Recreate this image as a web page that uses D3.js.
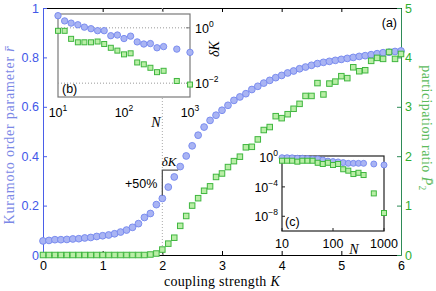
<!DOCTYPE html>
<html>
<head>
<meta charset="utf-8">
<script src="https://cdn.jsdelivr.net/npm/d3@7"></script>
<style>
  body { margin: 0; background: #fff; }
  svg { display: block; }
  text { font-family: "Liberation Sans", Arial, sans-serif; }
  .serif { font-family: "Liberation Serif", "Times New Roman", serif; }
</style>
</head>
<body>
<div id="chart"></div>
<script>
// main panel (a): coupling strength K vs order parameter and participation ratio
const K = [0, 0.1, 0.2, 0.3, 0.4, 0.5, 0.6, 0.7, 0.8, 0.9,
  1.0, 1.1, 1.2, 1.3, 1.4, 1.5, 1.6, 1.7, 1.8, 1.9,
  2.0, 2.1, 2.2, 2.3, 2.4, 2.5, 2.6, 2.7, 2.8, 2.9,
  3.0, 3.1, 3.2, 3.3, 3.4, 3.5, 3.6, 3.7, 3.8, 3.9,
  4.0, 4.1, 4.2, 4.3, 4.4, 4.5, 4.6, 4.7, 4.8, 4.9,
  5.0, 5.1, 5.2, 5.3, 5.4, 5.5, 5.6, 5.7, 5.8, 5.9, 6.0];
const rBar = [0.057, 0.059, 0.062, 0.062, 0.063, 0.065, 0.066, 0.069, 0.071, 0.075,
  0.078, 0.081, 0.086, 0.093, 0.101, 0.112, 0.127, 0.152, 0.168, 0.204,
  0.229, 0.275, 0.316, 0.358, 0.401, 0.442, 0.485, 0.518, 0.545, 0.566,
  0.586, 0.606, 0.626, 0.640, 0.653, 0.670, 0.683, 0.696, 0.707, 0.718,
  0.727, 0.737, 0.745, 0.754, 0.761, 0.768, 0.775, 0.780, 0.784, 0.788,
  0.792, 0.796, 0.800, 0.804, 0.807, 0.811, 0.815, 0.819, 0.821, 0.824, 0.826];
const P2 = [0, 0, 0, 0, 0, 0, 0, 0, 0, 0,
  0, 0, 0, 0, 0, 0, 0, 0, 0.01, 0.03,
  0.11, 0.23, 0.35, 0.59, 0.79, 1.00, 1.15, 1.30, 1.39, 1.58,
  1.65, 1.78, 1.90, 1.99, 2.18, 2.19, 2.34, 2.53, 2.59, 2.81,
  2.77, 2.85, 2.96, 3.06, 3.22, 3.22, 3.48, 3.25, 3.47, 3.51,
  3.62, 3.58, 3.80, 3.72, 3.74, 3.93, 3.99, 3.97, 4.11, 3.97, 4.07];
const xTicks = [0, 1, 2, 3, 4, 5, 6];
const rTicks = [0, 0.2, 0.4, 0.6, 0.8, 1];
const pTicks = [0, 1, 2, 3, 4, 5];

// insets (b) and (c): system size N
const N = [10, 12.6, 15.8, 20, 25.1, 31.6, 39.8, 50.1, 63.1, 79.4,
  100, 125.9, 158.5, 199.5, 251.2, 316.2, 398.1, 631, 1000];
const dKbRbar = [2.75, 1.78, 1.48, 1.29, 1.06, 0.93, 0.79, 0.79, 0.52, 0.55,
  0.41, 0.50, 0.31, 0.26, 0.27, 0.19, 0.21, 0.17, 0.13];
const dKbP2 = [0.78, 0.78, 0.40, 0.30, 0.30, 0.30, 0.32, 0.26, 0.19, 0.15,
  0.11, 0.12, 0.056, 0.048, 0.036, 0.025, 0.028, 0.012, 0.0089];
const cRbar = [0.93, 0.93, 0.89, 0.79, 0.79, 0.71, 0.63, 0.63, 0.45, 0.32,
  0.28, 0.25, 0.20, 0.16, 0.16, 0.16, 0.16, 0.13, 0.095];
const cP2 = [0.36, 0.36, 0.36, 0.27, 0.36, 0.36, 0.36, 0.19, 0.13, 0.19,
  0.095, 0.13, 0.025, 0.016, 0.0056, 0.0083, 0.0041, 1.3e-5, 2.8e-8];
const bXTicks = [10, 100, 1000], bXLabels = ["1", "2", "3"];
const bYTicks = [1, 0.01], bYLabels = ["0", "\u22122"];
const cXTicks = [10, 100, 1000], cXLabels = ["10", "100", "1000"];
const cYTicks = [1, 1e-4, 1e-8], cYLabels = ["0", "\u22124", "\u22128"];

const blueFill = "#a9b4f3", blueStroke = "#7487ee";
const greenFill = "#b9eea6", greenStroke = "#3fb63f";

const svg = d3.select("#chart").append("svg")
  .attr("width", 436).attr("height", 291);

const x = d3.scaleLinear().domain([0, 6]).range([43, 401]);
const yL = d3.scaleLinear().domain([0, 1]).range([255, 8]);
const yR = d3.scaleLinear().domain([0, 5]).range([255, 8]);

function styleAxis(g, lineColor, textColor) {
  g.select(".domain").attr("stroke", lineColor);
  g.selectAll(".tick line").attr("stroke", lineColor);
  g.selectAll(".tick text").attr("fill", textColor)
    .attr("font-size", 12.5)
    .attr("font-family", "Liberation Sans, Arial, sans-serif");
}

// axes
svg.append("g").attr("transform", "translate(0,255)")
  .call(d3.axisBottom(x).tickValues(xTicks).tickSize(-4).tickSizeOuter(0).tickPadding(6)
    .tickFormat(d3.format("d")))
  .call(g => styleAxis(g, "#000", "#000"));
svg.append("g").attr("transform", "translate(0,8)")
  .call(d3.axisTop(x).tickValues(xTicks).tickSize(-4).tickSizeOuter(0).tickFormat(""))
  .call(g => styleAxis(g, "#000", "#000"));
svg.append("g").attr("transform", "translate(43,0)")
  .call(d3.axisLeft(yL).tickValues(rTicks).tickSize(-4).tickSizeOuter(0).tickPadding(4)
    .tickFormat(d3.format("~g")))
  .call(g => styleAxis(g, "#4a5ee8", "#4257e8"));
svg.append("g").attr("transform", "translate(401,0)")
  .call(d3.axisRight(yR).tickValues(pTicks).tickSize(-4).tickSizeOuter(0).tickPadding(4)
    .tickFormat(d3.format("d")))
  .call(g => styleAxis(g, "#2e8b57", "#2fae2f"));

// dotted line at K = 2
svg.append("line")
  .attr("x1", x(2)).attr("x2", x(2)).attr("y1", yL(1)).attr("y2", yL(0))
  .attr("stroke", "#aaa").attr("stroke-dasharray", "1,2");

function drawCircles(g, xs, ys, r) {
  g.append("g").selectAll("circle").data(xs).join("circle")
    .attr("cx", d => d[0]).attr("cy", (d, i) => ys[i])
    .attr("r", r).attr("fill", blueFill).attr("stroke", blueStroke).attr("stroke-width", 0.9);
}
function drawSquares(g, xs, ys, s) {
  g.append("g").selectAll("rect").data(xs).join("rect")
    .attr("x", d => d[0] - s / 2).attr("y", (d, i) => ys[i] - s / 2)
    .attr("width", s).attr("height", s)
    .attr("fill", greenFill).attr("stroke", greenStroke).attr("stroke-width", 1);
}

drawCircles(svg, K.map(k => [x(k)]), rBar.map(v => yL(v)), 3.4);
drawSquares(svg, K.map(k => [x(k)]), P2.map(v => yR(v)), 5.5);

// delta K bracket: +50% of r at K=2
const i2 = K.indexOf(2);
const rTop = rBar[i2] * 1.5;
let kEnd = 2;
for (let i = i2; i < K.length - 1; i++) {
  if (rBar[i] <= rTop && rBar[i + 1] >= rTop) {
    kEnd = K[i] + (rTop - rBar[i]) / (rBar[i + 1] - rBar[i]) * (K[i + 1] - K[i]);
    break;
  }
}
svg.append("path")
  .attr("d", `M${x(2)},${yL(rBar[i2]) - 3}V${yL(rTop)}H${x(kEnd)}`)
  .attr("fill", "none").attr("stroke", "#555").attr("stroke-width", 1.3);
svg.append("text").attr("x", x(2) - 5).attr("y", 188)
  .attr("text-anchor", "end").attr("font-size", 12.5).text("+50%");
svg.append("text").attr("class", "serif").attr("x", 169).attr("y", 166)
  .attr("text-anchor", "middle").attr("font-size", 13).attr("font-style", "italic")
  .text("\u03b4K");

// panel label (a)
svg.append("text").attr("x", 397).attr("y", 27).attr("text-anchor", "end")
  .attr("font-size", 12.5).text("(a)");

// axis titles
svg.append("text").attr("class", "serif")
  .attr("x", 222).attr("y", 286).attr("text-anchor", "middle")
  .attr("font-size", 14).attr("letter-spacing", 0.3)
  .call(t => {
    t.append("tspan").text("coupling strength ");
    t.append("tspan").attr("font-style", "italic").text("K");
  });
svg.append("text").attr("class", "serif")
  .attr("transform", "translate(14,135) rotate(-90)").attr("text-anchor", "middle")
  .attr("font-size", 14).attr("letter-spacing", 0.8).attr("fill", "#7b88e6")
  .call(t => {
    t.append("tspan").text("Kuramoto order parameter ");
    t.append("tspan").attr("font-style", "italic").text("r\u0304");
  });
svg.append("text").attr("class", "serif")
  .attr("transform", "translate(422,128) rotate(90)").attr("text-anchor", "middle")
  .attr("font-size", 14).attr("letter-spacing", 0.4).attr("fill", "#5dbb5d")
  .call(t => {
    t.append("tspan").text("participation ratio ");
    t.append("tspan").attr("font-style", "italic").text("P\u0304");
    t.append("tspan").attr("font-size", 9.5).attr("dy", 3).text("2");
  });

function powLabel(t, base, exp) {
  t.append("tspan").text(base);
  t.append("tspan").attr("font-size", 8.5).attr("dy", -6).text(exp);
}

// inset (b)
const xb = d3.scaleLog().domain([10, 1000]).range([58, 190]);
const yb = d3.scaleLog().domain([Math.pow(10, -2.5), Math.pow(10, 0.5)]).range([97, 14]);
const gb = svg.append("g");
gb.append("rect").attr("x", 58).attr("y", 14).attr("width", 132).attr("height", 83)
  .attr("fill", "#fff").attr("stroke", "#7a7a7a").attr("stroke-width", 1.2);
gb.selectAll(".grid").data(bYTicks).join("line")
  .attr("x1", 58).attr("x2", 190).attr("y1", d => yb(d)).attr("y2", d => yb(d))
  .attr("stroke", "#999").attr("stroke-dasharray", "1,2");
gb.selectAll(".tk").data(bYTicks).join("line")
  .attr("x1", 186).attr("x2", 190).attr("y1", d => yb(d)).attr("y2", d => yb(d))
  .attr("stroke", "#7a7a7a");
bXTicks.forEach((v, i) => {
  gb.append("text").attr("x", xb(v)).attr("y", 117).attr("text-anchor", "middle")
    .attr("font-size", 12.5).call(t => powLabel(t, "10", bXLabels[i]));
});
bYTicks.forEach((v, i) => {
  gb.append("text").attr("x", 195).attr("y", yb(v) + 5)
    .attr("font-size", 12.5).call(t => powLabel(t, "10", bYLabels[i]));
});
gb.append("text").attr("class", "serif")
  .attr("transform", "translate(219,49) rotate(-90)").attr("text-anchor", "middle")
  .attr("font-size", 14).attr("font-style", "italic").text("\u03b4K");
gb.append("text").attr("class", "serif").attr("x", 156).attr("y", 127)
  .attr("text-anchor", "middle").attr("font-size", 14).attr("font-style", "italic").text("N");
gb.append("text").attr("x", 62).attr("y", 93).attr("font-size", 12.5).text("(b)");
drawCircles(gb, N.map(n => [xb(n)]), dKbRbar.map(v => yb(v)), 3.2);
drawSquares(gb, N.map(n => [xb(n)]), dKbP2.map(v => yb(v)), 5);

// inset (c)
const xc = d3.scaleLog().domain([10, 1000]).range([282, 384]);
const yc = d3.scaleLog().domain([1e-10, Math.pow(10, 0.2)]).range([231, 156]);
const gc = svg.append("g");
gc.append("rect").attr("x", 282).attr("y", 156).attr("width", 102).attr("height", 75)
  .attr("fill", "#fff").attr("stroke", "#222").attr("stroke-width", 1.2);
gc.selectAll(".tk").data(cYTicks).join("line")
  .attr("x1", 282).attr("x2", 285).attr("y1", d => yc(d)).attr("y2", d => yc(d))
  .attr("stroke", "#222");
gc.selectAll(".tkx").data(cXTicks).join("line")
  .attr("x1", d => xc(d)).attr("x2", d => xc(d)).attr("y1", 231).attr("y2", 228)
  .attr("stroke", "#222");
cXTicks.forEach((v, i) => {
  gc.append("text").attr("x", xc(v)).attr("y", 248).attr("text-anchor", "middle")
    .attr("font-size", 12.5).text(cXLabels[i]);
});
cYTicks.forEach((v, i) => {
  gc.append("text").attr("x", 278).attr("y", yc(v) + 5).attr("text-anchor", "end")
    .attr("font-size", 12.5).call(t => powLabel(t, "10", cYLabels[i]));
});
gc.append("text").attr("class", "serif").attr("x", 354).attr("y", 254)
  .attr("text-anchor", "middle").attr("font-size", 14).attr("font-style", "italic").text("N");
gc.append("text").attr("x", 285).attr("y", 226).attr("font-size", 12.5).text("(c)");
drawCircles(gc, N.map(n => [xc(n)]), cRbar.map(v => yc(v)), 3);
drawSquares(gc, N.map(n => [xc(n)]), cP2.map(v => yc(v)), 5);
</script>
</body>
</html>
